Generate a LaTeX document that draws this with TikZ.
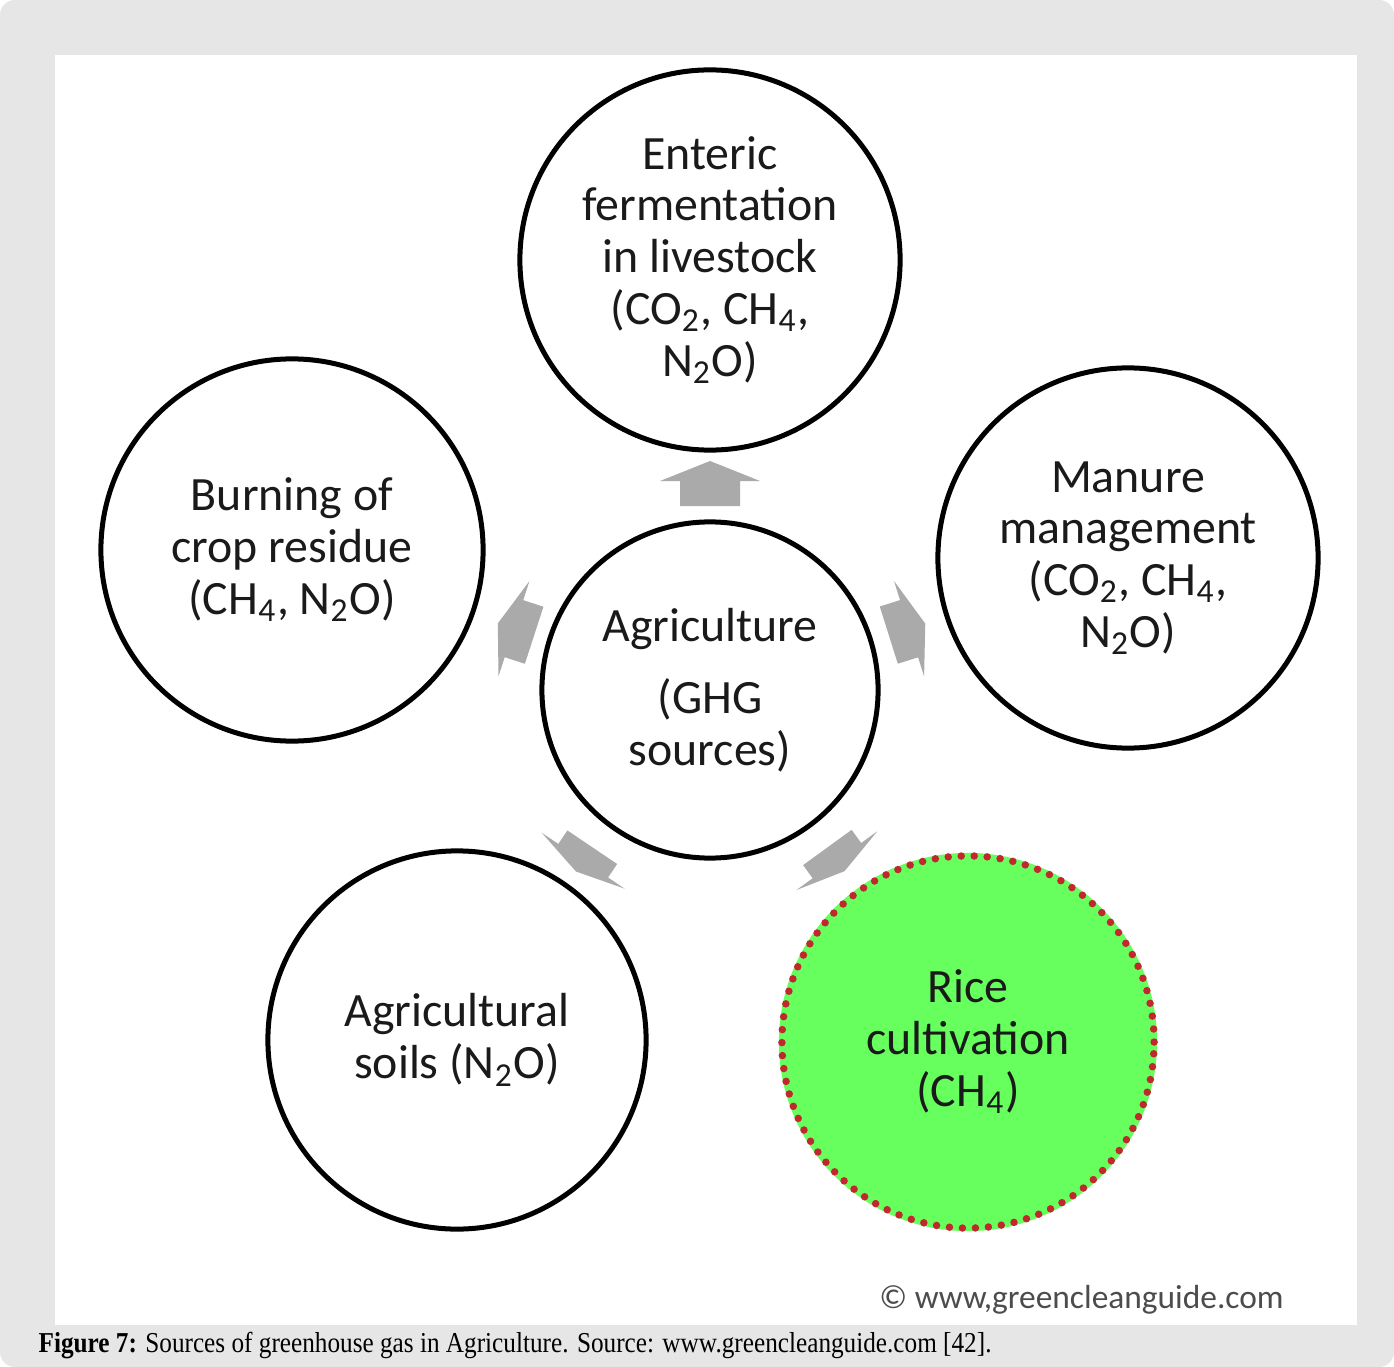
\documentclass[tikz,border=0pt]{standalone}
\usepackage{fontspec}
\setmainfont{Carlito}
\newfontfamily\capfont{Liberation Serif}
\begin{document}
\definecolor{panelgray}{HTML}{E6E6E6}
\definecolor{arrowgray}{HTML}{AAAAAA}
\definecolor{ricegreen}{HTML}{66FF5E}
\definecolor{dotred}{HTML}{C0282D}
\definecolor{inkdark}{HTML}{1A1A1A}
\begin{tikzpicture}[x=0.01cm,y=-0.01cm,
  source/.style={circle, draw=black, line width=0.05cm, fill=white, inner sep=0pt,
    align=center, text=inkdark, font=\fontsize{13.6}{14.7}\selectfont},
  ricebox/.style={circle, fill=ricegreen, inner sep=0pt, align=center, text=inkdark,
    font=\fontsize{13.6}{14.7}\selectfont},
  blockarrow/.style={fill=arrowgray}]
  % page frame
  \useasboundingbox (0,0) rectangle (1394,1367);
  \fill[white] (0,0) rectangle (1394,1367);
  \fill[panelgray, rounded corners=0.15cm] (0,0) rectangle (1394,1367);
  \fill[white] (55,55) rectangle (1357,1325);

  % sources
  \node[source, minimum size=3.8cm] (enteric) at (710,260)
    {Enteric\\fermentation\\in livestock\\(CO\textsubscript{2}, CH\textsubscript{4},\\N\textsubscript{2}O)};
  \node[source, minimum size=3.82cm] (burning) at (292,550)
    {Burning of\\crop residue\\(CH\textsubscript{4}, N\textsubscript{2}O)};
  \node[source, minimum size=3.8cm] (manure) at (1128,558)
    {Manure\\management\\(CO\textsubscript{2}, CH\textsubscript{4},\\N\textsubscript{2}O)};
  \node[source, minimum size=3.36cm] (agri) at (710,690)
    {Agriculture\\[5.7pt](GHG\\sources)};
  \node[source, minimum size=3.78cm] (soils) at (457,1040)
    {Agricultural\\soils (N\textsubscript{2}O)};
  \node[ricebox, minimum size=3.78cm] (rice) at (968,1042)
    {Rice\\cultivation\\(CH\textsubscript{4})};
  \draw[dotred, line width=0.075cm, line cap=round, dash pattern=on 0pt off 0.13cm]
    (rice.center) circle [radius=1.86cm];

  % block arrows from the centre outwards
  \newcommand\ghgarrow[3]{%
    \begin{scope}[shift={(#1)}, rotate=#2, xscale=#3]
      \fill[blockarrow] (25,0) -- (5,50) -- (5,30) -- (-20,30) -- (-20,-30) -- (5,-30) -- (5,-50) -- cycle;
    \end{scope}}
  \coordinate (a1) at (710,486);
  \coordinate (a2) at (518,630);
  \coordinate (a3) at (905,630);
  \coordinate (a4) at (585,858);
  \coordinate (a5) at (835,858);
  \ghgarrow{a1}{90}{1}
  \ghgarrow{a2}{162}{0.85}
  \ghgarrow{a3}{17.5}{0.85}
  \ghgarrow{a4}{236}{0.65}
  \ghgarrow{a5}{-54}{0.65}

  % credit and caption
  \node[anchor=east, text=black!70, font=\fontsize{9.5}{11}\selectfont] (credit) at (1296,1300)
    {\textcopyright\ www,greencleanguide.com};
  \node[anchor=west, inner sep=0pt, xscale=0.875, transform shape,
    font=\capfont\fontsize{8.2}{10}\selectfont] (caption) at (38,1346)
    {\textbf{Figure 7:} Sources of greenhouse gas in Agriculture. Source: www.greencleanguide.com [42].};
\end{tikzpicture}
\end{document}
